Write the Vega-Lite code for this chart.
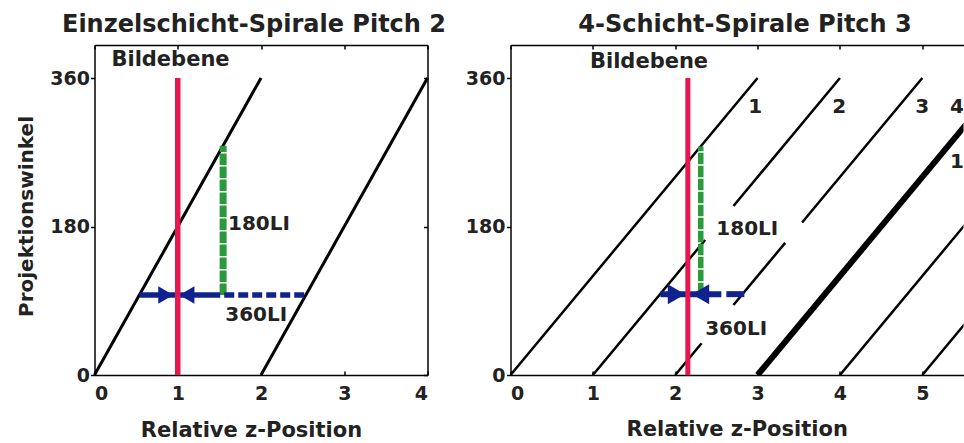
{
  "$schema": "https://vega.github.io/schema/vega-lite/v6.json",
  "padding": {"left": 16.5, "top": 13, "right": 0, "bottom": 0},
  "spacing": 83,
  "bounds": "flush",
  "config": {
    "view": {"stroke": null},
    "font": "DejaVu Sans",
    "axis": {"grid": false, "domainColor": "#000", "domainWidth": 1.5, "tickColor": "#000", "tickWidth": 1.5,
             "labelFont": "DejaVu Sans", "labelFontWeight": "bold", "labelFontSize": 19, "labelColor": "#222",
             "titleFont": "DejaVu Sans", "titleFontWeight": "bold", "titleColor": "#222", "titleFontSize": 21},
    "title": {"font": "DejaVu Sans", "fontWeight": "bold", "fontSize": 24, "color": "#222"},
    "text": {"font": "DejaVu Sans", "fontWeight": "bold", "fontSize": 20, "color": "#222"}
  },
  "datasets": {
    "spirale1": [
      {"seg": "s1", "z": 0, "winkel": 0}, {"seg": "s1", "z": 2, "winkel": 360},
      {"seg": "s2", "z": 2, "winkel": 0}, {"seg": "s2", "z": 4, "winkel": 360}
    ],
    "spirale4": [
      {"seg": "A", "schicht": 1, "z": 0, "winkel": 0}, {"seg": "A", "schicht": 1, "z": 3, "winkel": 360},
      {"seg": "B1", "schicht": 2, "z": 1, "winkel": 0}, {"seg": "B1", "schicht": 2, "z": 2.363, "winkel": 163.6},
      {"seg": "B2", "schicht": 2, "z": 2.707, "winkel": 204.8}, {"seg": "B2", "schicht": 2, "z": 4, "winkel": 360},
      {"seg": "C1", "schicht": 3, "z": 2, "winkel": 0}, {"seg": "C1", "schicht": 3, "z": 2.32, "winkel": 38.4},
      {"seg": "C2", "schicht": 3, "z": 2.707, "winkel": 84.8}, {"seg": "C2", "schicht": 3, "z": 3.335, "winkel": 160.2},
      {"seg": "C3", "schicht": 3, "z": 3.54, "winkel": 184.8}, {"seg": "C3", "schicht": 3, "z": 5, "winkel": 360},
      {"seg": "D", "schicht": 4, "z": 3, "winkel": 0}, {"seg": "D", "schicht": 4, "z": 6, "winkel": 360},
      {"seg": "E", "schicht": 1, "z": 4, "winkel": 0}, {"seg": "E", "schicht": 1, "z": 7, "winkel": 360},
      {"seg": "F", "schicht": 2, "z": 5, "winkel": 0}, {"seg": "F", "schicht": 2, "z": 8, "winkel": 360}
    ]
  },
  "hconcat": [
    {
      "width": 333,
      "height": 330,
      "title": {"text": "Einzelschicht-Spirale Pitch 2", "frame": "group", "anchor": "middle", "dx": -7, "offset": -12, "baseline": "alphabetic"},
      "resolve": {"axis": {"x": "independent", "y": "independent"}},
      "layer": [
        {
          "data": {"name": "spirale1"},
          "mark": {"type": "line", "color": "#000", "strokeWidth": 3},
          "encoding": {
            "x": {"field": "z", "type": "quantitative", "scale": {"domain": [0, 4], "nice": false, "zero": false},
                  "axis": {"orient": "bottom", "values": [0, 1, 2, 3, 4], "title": "Relative z-Position", "titleX": 156.5, "titleY": 61, "titleBaseline": "alphabetic",
                           "tickSize": -4, "labelBaseline": "alphabetic", "labelPadding": 28}},
            "y": {"field": "winkel", "type": "quantitative", "scale": {"domain": [0, 400], "nice": false},
                  "axis": {"orient": "left", "values": [0, 180, 360], "title": "Projektionswinkel", "titleFontSize": 20, "titleX": -62, "titleY": 171, "titleBaseline": "alphabetic", "titleAngle": 270,
                           "tickSize": 4, "labelPadding": 1}},
            "detail": {"field": "seg"}
          }
        },
        {
          "data": {"values": [{"z": 1.545, "von": 97, "bis": 278}]},
          "mark": {"type": "rule", "color": "#2A9A3C", "strokeWidth": 7, "strokeDash": [11.5, 1.5]},
          "encoding": {
            "x": {"field": "z", "type": "quantitative", "axis": null},
            "y": {"field": "von", "type": "quantitative", "axis": null},
            "y2": {"field": "bis"}
          }
        },
        {
          "data": {"values": [{"von": 0.54, "bis": 1.51, "winkel": 97}]},
          "mark": {"type": "rule", "color": "#0F2290", "strokeWidth": 5.5},
          "encoding": {
            "x": {"field": "von", "type": "quantitative", "axis": null},
            "x2": {"field": "bis"},
            "y": {"field": "winkel", "type": "quantitative", "axis": null}
          }
        },
        {
          "data": {"values": [{"von": 1.51, "bis": 2.54, "winkel": 97}]},
          "mark": {"type": "rule", "color": "#0F2290", "strokeWidth": 5.5, "strokeDash": [10, 4], "strokeDashOffset": 10},
          "encoding": {
            "x": {"field": "von", "type": "quantitative", "axis": null},
            "x2": {"field": "bis"},
            "y": {"field": "winkel", "type": "quantitative", "axis": null}
          }
        },
        {
          "data": {"values": [{"z": 0.856, "winkel": 97, "richtung": "rechts"}, {"z": 1.11, "winkel": 97, "richtung": "links"}]},
          "mark": {"type": "point", "filled": true, "color": "#0F2290", "opacity": 1, "size": 300},
          "encoding": {
            "x": {"field": "z", "type": "quantitative", "axis": null},
            "y": {"field": "winkel", "type": "quantitative", "axis": null},
            "shape": {"field": "richtung", "type": "nominal", "scale": {"domain": ["rechts", "links"], "range": ["triangle-right", "triangle-left"]}, "legend": null}
          }
        },
        {
          "data": {"values": [{"z": 1, "von": 0, "bis": 360}]},
          "mark": {"type": "rule", "color": "#E8164F", "strokeWidth": 5.5},
          "encoding": {
            "x": {"field": "z", "type": "quantitative", "axis": null},
            "y": {"field": "von", "type": "quantitative", "axis": null},
            "y2": {"field": "bis"}
          }
        },
        {
          "data": {"values": [{"z": 1.604, "winkel": 176, "text": "180LI"}, {"z": 1.571, "winkel": 65, "text": "360LI"}]},
          "mark": {"type": "text", "align": "left", "baseline": "alphabetic"},
          "encoding": {
            "x": {"field": "z", "type": "quantitative", "axis": null},
            "y": {"field": "winkel", "type": "quantitative", "axis": null},
            "text": {"field": "text"}
          }
        },
        {
          "data": {"values": [{"z": 0.913, "winkel": 374.5, "text": "Bildebene"}]},
          "mark": {"type": "text", "align": "center", "baseline": "alphabetic", "fontSize": 21},
          "encoding": {
            "x": {"field": "z", "type": "quantitative",
                  "axis": {"orient": "top", "values": [0, 1, 2, 3, 4], "labels": false, "title": null, "tickSize": -4}},
            "y": {"field": "winkel", "type": "quantitative",
                  "axis": {"orient": "right", "values": [0, 180, 360], "labels": false, "title": null, "tickSize": -4}},
            "text": {"field": "text"}
          }
        }
      ]
    },
    {
      "width": 453,
      "height": 330,
      "title": {"text": "4-Schicht-Spirale Pitch 3", "frame": "group", "anchor": "middle", "dx": 8, "offset": -12, "baseline": "alphabetic"},
      "resolve": {"axis": {"x": "independent", "y": "independent"}},
      "layer": [
        {
          "data": {"name": "spirale4"},
          "transform": [{"filter": "datum.schicht != 4"}],
          "mark": {"type": "line", "color": "#000", "strokeWidth": 2.5, "clip": true},
          "encoding": {
            "x": {"field": "z", "type": "quantitative", "scale": {"domain": [0, 5.5], "nice": false, "zero": false},
                  "axis": {"orient": "bottom", "values": [0, 1, 2, 3, 4, 5], "title": "Relative z-Position", "titleX": 226.2, "titleY": 60, "titleBaseline": "alphabetic",
                           "tickSize": -4, "labelBaseline": "alphabetic", "labelPadding": 28}},
            "y": {"field": "winkel", "type": "quantitative", "scale": {"domain": [0, 400], "nice": false},
                  "axis": {"orient": "left", "values": [0, 180, 360], "title": null, "tickSize": 4, "labelPadding": 1.5}},
            "detail": {"field": "seg"}
          }
        },
        {
          "data": {"name": "spirale4"},
          "transform": [{"filter": "datum.schicht == 4"}],
          "mark": {"type": "line", "color": "#000", "strokeWidth": 6, "clip": true},
          "encoding": {
            "x": {"field": "z", "type": "quantitative", "axis": null},
            "y": {"field": "winkel", "type": "quantitative", "axis": null},
            "detail": {"field": "seg"}
          }
        },
        {
          "data": {"values": [{"z": 2.31, "von": 98, "bis": 277}]},
          "mark": {"type": "rule", "color": "#2A9A3C", "strokeWidth": 5.5, "strokeDash": [11.5, 1.5]},
          "encoding": {
            "x": {"field": "z", "type": "quantitative", "axis": null},
            "y": {"field": "von", "type": "quantitative", "axis": null},
            "y2": {"field": "bis"}
          }
        },
        {
          "data": {"values": [{"von": 1.82, "bis": 2.56, "winkel": 98}]},
          "mark": {"type": "rule", "color": "#0F2290", "strokeWidth": 6},
          "encoding": {
            "x": {"field": "von", "type": "quantitative", "axis": null},
            "x2": {"field": "bis"},
            "y": {"field": "winkel", "type": "quantitative", "axis": null}
          }
        },
        {
          "data": {"values": [{"von": 2.56, "bis": 2.84, "winkel": 98}]},
          "mark": {"type": "rule", "color": "#0F2290", "strokeWidth": 6, "strokeDash": [18, 5], "strokeDashOffset": 18},
          "encoding": {
            "x": {"field": "von", "type": "quantitative", "axis": null},
            "x2": {"field": "bis"},
            "y": {"field": "winkel", "type": "quantitative", "axis": null}
          }
        },
        {
          "data": {"values": [{"z": 2.015, "winkel": 98, "richtung": "rechts"}, {"z": 2.307, "winkel": 98, "richtung": "links"}]},
          "mark": {"type": "point", "filled": true, "color": "#0F2290", "opacity": 1, "size": 400},
          "encoding": {
            "x": {"field": "z", "type": "quantitative", "axis": null},
            "y": {"field": "winkel", "type": "quantitative", "axis": null},
            "shape": {"field": "richtung", "type": "nominal", "scale": {"domain": ["rechts", "links"], "range": ["triangle-right", "triangle-left"]}, "legend": null}
          }
        },
        {
          "data": {"values": [{"z": 2.153, "von": 0, "bis": 360}]},
          "mark": {"type": "rule", "color": "#E8164F", "strokeWidth": 5},
          "encoding": {
            "x": {"field": "z", "type": "quantitative", "axis": null},
            "y": {"field": "von", "type": "quantitative", "axis": null},
            "y2": {"field": "bis"}
          }
        },
        {
          "data": {"values": [{"z": 2.499, "winkel": 170, "text": "180LI"}, {"z": 2.364, "winkel": 48.8, "text": "360LI"}]},
          "mark": {"type": "text", "align": "left", "baseline": "alphabetic"},
          "encoding": {
            "x": {"field": "z", "type": "quantitative", "axis": null},
            "y": {"field": "winkel", "type": "quantitative", "axis": null},
            "text": {"field": "text"}
          }
        },
        {
          "data": {"values": [
            {"z": 2.97, "winkel": 317.6, "text": "1"},
            {"z": 3.99, "winkel": 317.6, "text": "2"},
            {"z": 5.0, "winkel": 317.6, "text": "3"},
            {"z": 5.42, "winkel": 317.6, "text": "4"},
            {"z": 5.42, "winkel": 251, "text": "1"}
          ]},
          "mark": {"type": "text", "align": "center", "baseline": "alphabetic", "clip": true},
          "encoding": {
            "x": {"field": "z", "type": "quantitative", "axis": null},
            "y": {"field": "winkel", "type": "quantitative", "axis": null},
            "text": {"field": "text"}
          }
        },
        {
          "data": {"values": [{"z": 1.682, "winkel": 372, "text": "Bildebene"}]},
          "mark": {"type": "text", "align": "center", "baseline": "alphabetic", "fontSize": 21},
          "encoding": {
            "x": {"field": "z", "type": "quantitative",
                  "axis": {"orient": "top", "values": [0, 1, 2, 3, 4, 5], "labels": false, "title": null, "tickSize": -4}},
            "y": {"field": "winkel", "type": "quantitative", "axis": null},
            "text": {"field": "text"}
          }
        }
      ]
    }
  ]
}
